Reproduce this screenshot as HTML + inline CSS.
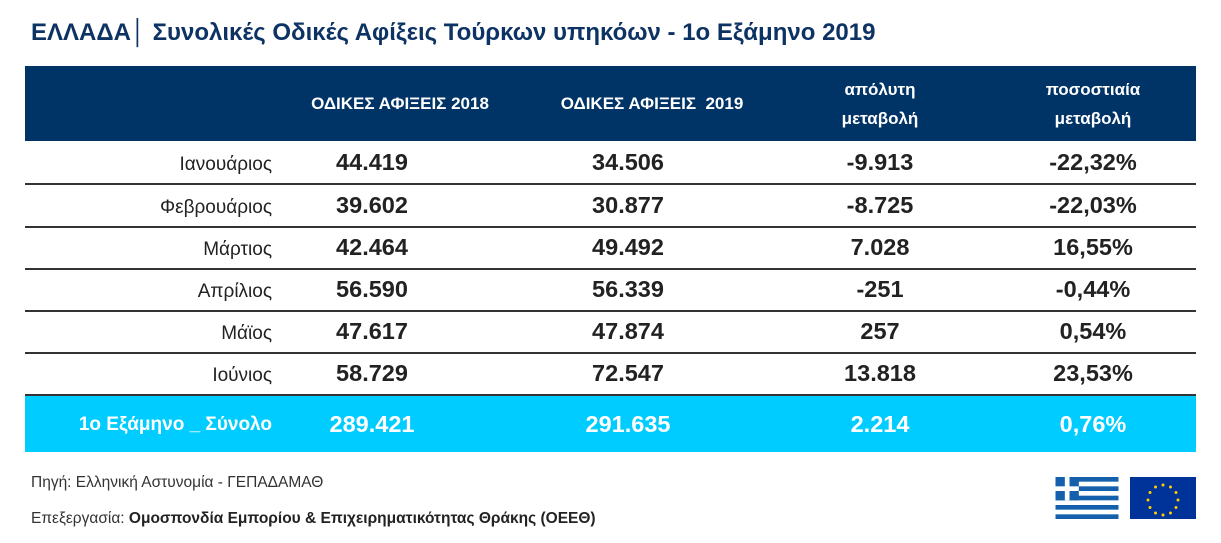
<!DOCTYPE html>
<html><head><meta charset="utf-8"><style>
body{margin:0;width:1221px;height:543px;background:#fff;position:relative;overflow:hidden;font-family:"Liberation Sans","DejaVu Sans",sans-serif;}
.a{position:absolute;}
.title{left:31px;top:19px;font-size:24px;font-weight:bold;color:#0d3364;white-space:nowrap;}
.hdr{left:25px;top:66px;width:1171px;height:75px;background:#003366;}
.h{position:absolute;color:#fff;font-weight:bold;font-size:17px;text-align:center;line-height:29px;transform:translateX(-50%);white-space:nowrap;}
.row{position:absolute;left:25px;width:1171px;height:42px;border-bottom:2px solid #333;}
.c{position:absolute;top:0;line-height:42px;font-weight:bold;font-size:23.5px;color:#222;transform:translateX(-50%);white-space:nowrap;}
.l{position:absolute;top:3px;line-height:42px;font-size:19px;color:#222;white-space:nowrap;}
.tot{position:absolute;left:25px;top:396px;width:1171px;height:56px;background:#00ccff;}
.tot .c,.tot .l{color:#fff;line-height:56px;}
.foot{left:31px;font-size:15.5px;color:#333;white-space:nowrap;}
</style></head><body>
<div class="a title">ΕΛΛΑΔΑ│ Συνολικές Οδικές Αφίξεις Τούρκων υπηκόων - 1ο Εξάμηνο 2019</div>
<div class="a hdr">
<div class="h" style="left:375px;top:23px">ΟΔΙΚΕΣ ΑΦΙΞΕΙΣ 2018</div>
<div class="h" style="left:627px;top:23px">ΟΔΙΚΕΣ ΑΦΙΞΕΙΣ &nbsp;2019</div>
<div class="h" style="left:855px;top:9px">απόλυτη<br>μεταβολή</div>
<div class="h" style="left:1068px;top:9px">ποσοστιαία<br>μεταβολή</div>
</div>
<div class="row" style="top:141px"><span class="l" style="right:924px">Ιανουάριος</span><span class="c" style="left:347px">44.419</span><span class="c" style="left:603px">34.506</span><span class="c" style="left:855px">-9.913</span><span class="c" style="left:1068px">-22,32%</span></div>
<div class="row" style="top:184px"><span class="l" style="right:924px">Φεβρουάριος</span><span class="c" style="left:347px">39.602</span><span class="c" style="left:603px">30.877</span><span class="c" style="left:855px">-8.725</span><span class="c" style="left:1068px">-22,03%</span></div>
<div class="row" style="top:226px"><span class="l" style="right:924px">Μάρτιος</span><span class="c" style="left:347px">42.464</span><span class="c" style="left:603px">49.492</span><span class="c" style="left:855px">7.028</span><span class="c" style="left:1068px">16,55%</span></div>
<div class="row" style="top:268px"><span class="l" style="right:924px">Απρίλιος</span><span class="c" style="left:347px">56.590</span><span class="c" style="left:603px">56.339</span><span class="c" style="left:855px">-251</span><span class="c" style="left:1068px">-0,44%</span></div>
<div class="row" style="top:310px"><span class="l" style="right:924px">Μάϊος</span><span class="c" style="left:347px">47.617</span><span class="c" style="left:603px">47.874</span><span class="c" style="left:855px">257</span><span class="c" style="left:1068px">0,54%</span></div>
<div class="row" style="top:352px"><span class="l" style="right:924px">Ιούνιος</span><span class="c" style="left:347px">58.729</span><span class="c" style="left:603px">72.547</span><span class="c" style="left:855px">13.818</span><span class="c" style="left:1068px">23,53%</span></div>
<div class="tot"><span class="l" style="right:924px;font-weight:bold;top:1px">1ο Εξάμηνο _ Σύνολο</span><span class="c" style="left:347px">289.421</span><span class="c" style="left:603px">291.635</span><span class="c" style="left:855px">2.214</span><span class="c" style="left:1068px">0,76%</span></div>
<div class="a foot" style="top:474px">Πηγή: Ελληνική Αστυνομία - ΓΕΠΑΔΑΜΑΘ</div>
<div class="a foot" style="top:510px">Επεξεργασία: <b style="color:#222">Ομοσπονδία Εμπορίου &amp; Επιχειρηματικότητας Θράκης (ΟΕΕΘ)</b></div>
<svg class="a" style="left:1054px;top:477px" width="66" height="42" viewBox="0 0 27 18">
<rect width="27" height="18" fill="#1560ad"/>
<g fill="#fff"><rect y="2" width="27" height="2"/><rect y="6" width="27" height="2"/><rect y="10" width="27" height="2"/><rect y="14" width="27" height="2"/></g>
<rect width="10" height="10" fill="#1560ad"/><rect x="4" width="2" height="10" fill="#fff"/><rect y="4" width="10" height="2" fill="#fff"/>
</svg>
<svg class="a" style="left:1130px;top:477px" width="66" height="42" viewBox="0 0 66 42">
<rect width="66" height="42" fill="#003399"/>
<g fill="#ffcc00">
<circle cx="33" cy="8" r="1.5"/><circle cx="40.5" cy="10" r="1.5"/><circle cx="46" cy="15.5" r="1.5"/><circle cx="48" cy="23" r="1.5"/><circle cx="46" cy="30.5" r="1.5"/><circle cx="40.5" cy="36" r="1.5"/><circle cx="33" cy="38" r="1.5"/><circle cx="25.5" cy="36" r="1.5"/><circle cx="20" cy="30.5" r="1.5"/><circle cx="18" cy="23" r="1.5"/><circle cx="20" cy="15.5" r="1.5"/><circle cx="25.5" cy="10" r="1.5"/>
</g></svg>
</body></html>
